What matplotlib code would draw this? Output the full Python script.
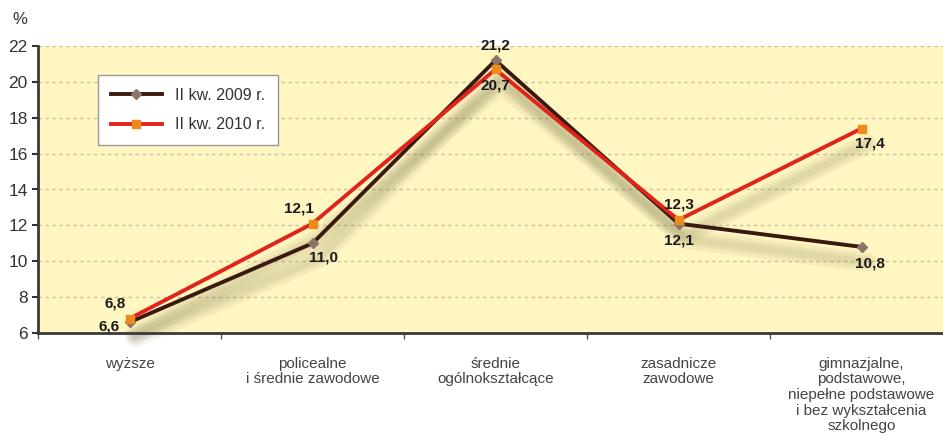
import matplotlib.pyplot as plt
import matplotlib.transforms as mtransforms
import numpy as np

plt.rcParams['font.family'] = ['Liberation Sans', 'DejaVu Sans']

# dane
kategorie = ['wyższe', 'policealne\ni średnie zawodowe', 'średnie\nogólnokształcące',
             'zasadnicze\nzawodowe',
             'gimnazjalne,\npodstawowe,\nniepełne podstawowe\ni bez wykształcenia\nszkolnego']
kw2009 = [6.6, 11.0, 21.2, 12.1, 10.8]
kw2010 = [6.8, 12.1, 20.7, 12.3, 17.4]
etykiety_2009 = ['6,6', '11,0', '21,2', '12,1', '10,8']
etykiety_2010 = ['6,8', '12,1', '20,7', '12,3', '17,4']

fig = plt.figure(figsize=(9.43, 4.48), dpi=100)
ax = fig.add_axes([38 / 943, 115 / 448, 915 / 943, 287 / 448])
ax.set_facecolor('#fff6c2')

x = np.arange(len(kategorie)) + 0.5

# rozmyty cień pod liniami
cien_tr = mtransforms.offset_copy(ax.transData, fig=fig, x=4, y=-11, units='points')
for y in (kw2009, kw2010):
    for lw in (14, 9, 5):
        ax.plot(x, y, color='#77724a', alpha=0.08, linewidth=lw, transform=cien_tr,
                solid_capstyle='round', zorder=2, clip_on=False)

ax.plot(x, kw2009, color='#3a1a10', linewidth=2.8, marker='D', markersize=5,
        markerfacecolor='#8c7466', markeredgecolor='#8c7466', label='II kw. 2009 r.',
        zorder=3)
ax.plot(x, kw2010, color='#e2231a', linewidth=2.8, marker='s', markersize=6,
        markerfacecolor='#ec8a1c', markeredgecolor='#ec8a1c', label='II kw. 2010 r.',
        zorder=4)

# etykiety wartości (przesunięcia w punktach)
off_2009 = [(-15, -3), (8, -10), (0, 11), (0, -12), (6, -12)]
off_2010 = [(-10, 11), (-10, 11), (0, -12), (0, 11), (6, -11)]
for i in range(len(x)):
    ax.annotate(etykiety_2009[i], (x[i], kw2009[i]), xytext=off_2009[i],
                textcoords='offset points', ha='center', va='center',
                fontsize=11, fontweight='bold', color='#1a1a1a', zorder=6)
    ax.annotate(etykiety_2010[i], (x[i], kw2010[i]), xytext=off_2010[i],
                textcoords='offset points', ha='center', va='center',
                fontsize=11, fontweight='bold', color='#1a1a1a', zorder=6)

ax.set_xlim(0, 5)
ax.set_ylim(6, 22)
ax.set_yticks(np.arange(6, 23, 2))
ax.tick_params(axis='y', labelsize=12.5, colors='#333333', length=4, width=1.5)
ax.set_xticks(np.arange(0, 6))
ax.set_xticklabels([])
ax.set_xticks(x, minor=True)
ax.set_xticklabels(kategorie, minor=True, fontsize=11, color='#444444', linespacing=1.15)
ax.tick_params(axis='x', which='minor', length=0, pad=17)
ax.tick_params(axis='x', which='major', length=4, width=1, colors='#555555')

ax.grid(axis='y', linestyle=(0, (2.5, 2.5)), color='#c9c29c', linewidth=1)
ax.set_axisbelow(True)
for s in ['top', 'right']:
    ax.spines[s].set_visible(False)
for s in ['left', 'bottom']:
    ax.spines[s].set_color('#3a3a3a')
    ax.spines[s].set_linewidth(2)

fig.text(20 / 943, 1 - 20 / 448, '%', fontsize=12, color='#333333', ha='center', va='center')

leg = ax.legend(loc='upper left', bbox_to_anchor=(60 / 915, 258 / 287), borderaxespad=0,
                fontsize=11.5, frameon=True, fancybox=False, edgecolor='#999999',
                framealpha=1, handlelength=3.2, borderpad=0.8, labelspacing=0.9)
leg.get_frame().set_linewidth(1)
for t in leg.get_texts():
    t.set_color('#333333')

fig.savefig('out.png', dpi=100)
